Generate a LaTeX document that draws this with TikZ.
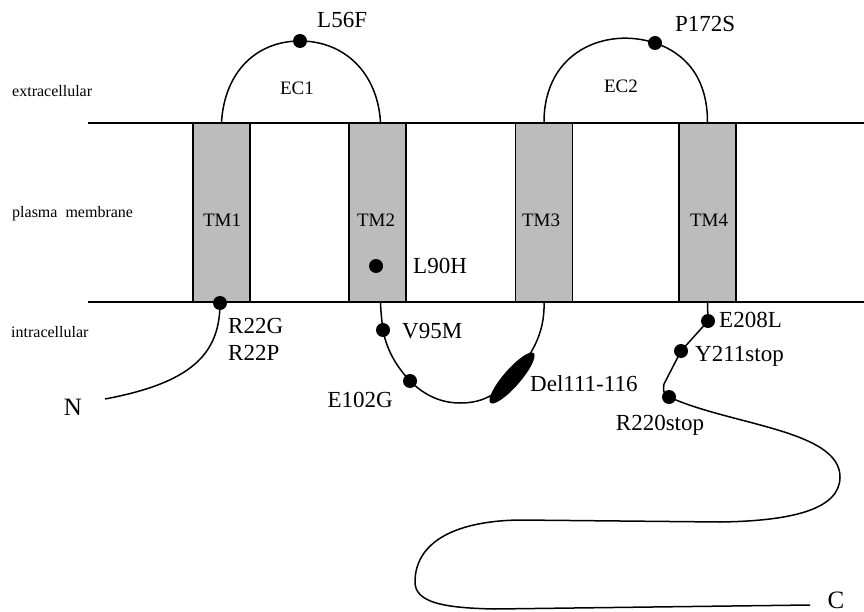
\documentclass[tikz,border=0pt]{standalone}
\usepackage{fontspec}
\setmainfont{Liberation Serif}
\usepackage{tikz}
\usetikzlibrary{
  positioning,
  shapes.geometric
}
\definecolor{tmFill}{HTML}{BCBCBC}
\tikzset{
  tmbox/.style={
    draw, line width=1.4pt, fill=tmFill, minimum width=57pt, minimum height=179pt, inner sep=0pt
  },
  tmname/.style={font=\fontsize{19}{22}\selectfont, inner sep=0pt, anchor=base},
  membrane/.style={line width=1.9pt},
  peptide/.style={line width=1.5pt},
  mutdot/.style={circle, fill=black, minimum size=14pt, inner sep=0pt},
  delblob/.style={ellipse, fill=black, minimum width=66pt, minimum height=17pt, inner sep=0pt, rotate=49},
  mutlabel/.style={font=\fontsize{23}{27}\selectfont, inner sep=0pt, anchor=base west},
  sidelabel/.style={font=\fontsize{16}{19}\selectfont, inner sep=0pt, anchor=base west},
  loopname/.style={font=\fontsize{19}{22}\selectfont, inner sep=0pt, anchor=base},
  termlabel/.style={font=\fontsize{25}{30}\selectfont, inner sep=0pt, anchor=base}
}

\begin{document}
\begin{tikzpicture}[x=1pt, y=-1pt]
  \useasboundingbox (0,0) rectangle (864,612);
  \draw[membrane] (88,123) -- (864,123);
  \draw[membrane] (88,302) -- (864,302);
  \node[tmbox] (tm1) at (221.5,212.5) {};
  \node[tmbox] (tm2) at (377.5,212.5) {};
  \node[tmbox] (tm3) at (544,212.5) {};
  \node[tmbox] (tm4) at (707.5,212.5) {};
  \node[tmname] (tm1name) at (222,227) {TM1};
  \node[tmname] (tm2name) at (376,227) {TM2};
  \node[tmname] (tm3name) at (541,227) {TM3};
  \node[tmname] (tm4name) at (709,227) {TM4};

  \node[sidelabel] (extra) at (12,97) {extracellular};
  \node[sidelabel] (plasma) at (12,218) {plasma\ \ membrane};
  \node[sidelabel] (intra) at (11,337) {intracellular};
  \node[loopname] (ec1) at (297,95) {EC1};
  \node[loopname] (ec2) at (621,93) {EC2};

  \node[mutdot] (l56f) at (300,41) {};
  \node[mutdot] (p172s) at (655,43) {};
  \node[mutdot] (l90h) at (376,266) {};
  \node[mutdot] (r22) at (220,303) {};
  \node[mutdot] (v95m) at (383,330) {};
  \node[mutdot] (e102g) at (410,381) {};
  \node[delblob] (del) at (512,378) {};
  \node[mutdot] (e208l) at (708,321) {};
  \node[mutdot] (y211) at (681,351) {};
  \node[mutdot] (r220) at (669,397) {};
  \coordinate (nend) at (105,399);
  \coordinate (cend) at (810,605);
  \coordinate (loopbot) at (460,403);

  \draw[peptide] (tm1.north) .. controls +(3,-50) and +(-44,0) .. (l56f.center)
    .. controls +(44,0) and +(-3,-50) .. ([xshift=3pt]tm2.north);
  \draw[peptide] (tm3.north) .. controls +(0,-72) and +(-48,-16) .. (p172s.center)
    .. controls +(30,10) and +(0,-45) .. (tm4.north);
  \draw[peptide] (r22.center) .. controls (220,355) and (190,383) .. (nend);
  \draw[peptide] ([xshift=3pt]tm2.south) .. controls (381,315) and (382,322) .. (v95m.center)
    .. controls (387,352) and (398,368) .. (e102g.center)
    .. controls (425,396) and (442,403) .. (loopbot)
    .. controls (478,403) and (494,398) .. (del.center)
    .. controls (530,357) and (545,335) .. (tm3.south);
  \draw[peptide] (tm4.south) -- (e208l.center) -- (y211.center) -- (664,384)
    .. controls (663,392) .. (r220.center);
  \draw[peptide] (r220.center) .. controls (730,425) and (840,430) .. (840,477)
    .. controls (840,510) and (790,521) .. (720,522) -- (520,520)
    .. controls (450,521) and (415,545) .. (415,582)
    .. controls (415,603) and (445,608) .. (495,609) -- (cend);

  \node[mutlabel] (l56flabel) at (317,28) {L56F};
  \node[mutlabel] (p172slabel) at (675,32) {P172S};
  \node[mutlabel] (l90hlabel) at (413,273) {L90H};
  \node[mutlabel] (r22glabel) at (228,333) {R22G};
  \node[mutlabel] (r22plabel) at (228,360) {R22P};
  \node[mutlabel] (v95mlabel) at (402,338) {V95M};
  \node[mutlabel, anchor=base east] (e102glabel) at (393,407) {E102G};
  \node[mutlabel] (dellabel) at (530,391) {Del111-116};
  \node[mutlabel] (e208llabel) at (719,327) {E208L};
  \node[mutlabel] (y211label) at (695,361) {Y211stop};
  \node[mutlabel, anchor=base] (r220label) at (660,430) {R220stop};
  \node[termlabel] (nterm) at (73,415) {N};
  \node[termlabel] (cterm) at (836,608) {C};
\end{tikzpicture}
\end{document}
